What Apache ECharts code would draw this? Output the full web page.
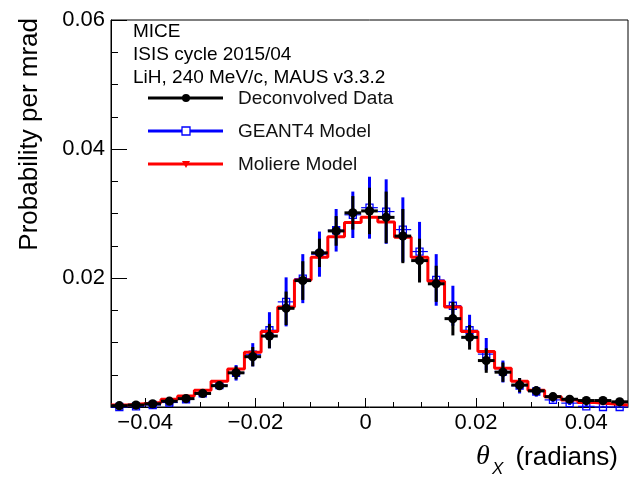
<!DOCTYPE html>
<html>
<head>
<meta charset="utf-8">
<script src="https://cdn.jsdelivr.net/npm/echarts/dist/echarts.min.js"></script>
<style>
  html, body { margin: 0; padding: 0; background: #fff; }
  #main { width: 629px; height: 481px; }
</style>
</head>
<body>
<div id="main"></div>
<script>
"use strict";
// histogram binning: 31 bins
var binLo = -0.0462, binW = 0.003025, nBins = 31;

// Deconvolved data (black) and its error
var dataVal = [0.0002, 0.0003, 0.0005, 0.0009, 0.0013, 0.0021, 0.0033, 0.0053, 0.0078, 0.0110,
  0.0153, 0.0196, 0.0239, 0.0273, 0.0301, 0.0304, 0.0294, 0.0265, 0.0227, 0.0191,
  0.0137, 0.0108, 0.0072, 0.0054, 0.0034, 0.0025, 0.0016, 0.0012, 0.0010, 0.0010, 0.0008];
var dataErr = [0.0002, 0.0002, 0.0002, 0.0003, 0.0003, 0.0004, 0.0006, 0.0010, 0.0015, 0.0019,
  0.0026, 0.0030, 0.0022, 0.0023, 0.0026, 0.0036, 0.0040, 0.0042, 0.0034, 0.0028,
  0.0026, 0.0019, 0.0019, 0.0015, 0.0011, 0.0007, 0.0004, 0.0003, 0.0003, 0.0002, 0.0002];
// GEANT4 model (blue)
var g4Val = [0.0000, 0.0001, 0.0003, 0.0007, 0.0012, 0.0021, 0.0034, 0.0053, 0.0081, 0.0119,
  0.0163, 0.0199, 0.0237, 0.0274, 0.0298, 0.0309, 0.0303, 0.0275, 0.0241, 0.0197,
  0.0157, 0.0119, 0.0082, 0.0055, 0.0033, 0.0024, 0.0011, 0.0006, 0.0001, 0.0000, 0.0000];
var g4Err = [0.0002, 0.0002, 0.0002, 0.0003, 0.0003, 0.0004, 0.0006, 0.0012, 0.0018, 0.0028,
  0.0038, 0.0038, 0.0035, 0.0033, 0.0036, 0.0048, 0.0050, 0.0050, 0.0046, 0.0040,
  0.0031, 0.0024, 0.0025, 0.0017, 0.0012, 0.0008, 0.0004, 0.0003, 0.0002, 0.0002, 0.0002];
// Moliere model (red histogram)
var molVal = [0.0003, 0.0005, 0.0007, 0.0012, 0.0017, 0.0026, 0.0040, 0.0059, 0.0085, 0.0117,
  0.0155, 0.0197, 0.0232, 0.0264, 0.0286, 0.0294, 0.0287, 0.0263, 0.0232, 0.0195,
  0.0155, 0.0117, 0.0086, 0.0060, 0.0040, 0.0026, 0.0016, 0.0011, 0.0007, 0.0005, 0.0003];

var majorX = [-0.04, -0.02, 0, 0.02, 0.04];
var minorX = [-0.045, -0.035, -0.03, -0.025, -0.015, -0.01, -0.005,
  0.005, 0.01, 0.015, 0.025, 0.03, 0.035, 0.045];

var FONT = "Liberation Sans";

function center(k){ return binLo + (k + 0.5) * binW; }

var blackData = dataVal.map(function(v, k){ return [center(k), v, dataErr[k]]; });
var blueData = g4Val.map(function(v, k){ return [center(k), v, g4Err[k]]; });
var redData = molVal.map(function(v, k){ return [binLo + k * binW, v]; });
redData.push([binLo + nBins * binW, molVal[nBins - 1]]);

function renderBlack(params, api){
  var x = api.value(0), v = api.value(1), e = api.value(2);
  var p = api.coord([x, v]);
  var l = api.coord([x - binW / 2, v])[0], r = api.coord([x + binW / 2, v])[0];
  var t = api.coord([x, v + e])[1], b = api.coord([x, Math.max(v - e, 0)])[1];
  return { type: 'group', children: [
    { type: 'line', shape: { x1: l, y1: p[1], x2: r, y2: p[1] }, style: { stroke: '#000', lineWidth: 3 } },
    { type: 'line', shape: { x1: p[0], y1: t, x2: p[0], y2: b }, style: { stroke: '#000', lineWidth: 3 } },
    { type: 'circle', shape: { cx: p[0], cy: p[1], r: 4.6 }, style: { fill: '#000' } }
  ]};
}
function renderBlue(params, api){
  var x = api.value(0), v = api.value(1), e = api.value(2);
  var p = api.coord([x, v]);
  var l = api.coord([x - binW / 2, v])[0], r = api.coord([x + binW / 2, v])[0];
  var t = api.coord([x, v + e])[1], b = api.coord([x, Math.max(v - e, 0)])[1];
  return { type: 'group', children: [
    { type: 'line', shape: { x1: l, y1: p[1], x2: r, y2: p[1] }, style: { stroke: '#0000ff', lineWidth: 1.2 } },
    { type: 'line', shape: { x1: p[0], y1: t, x2: p[0], y2: b }, style: { stroke: '#0000ff', lineWidth: 3 } },
    { type: 'rect', shape: { x: p[0] - 3.5, y: p[1] - 3.5, width: 7, height: 7 },
      style: { fill: 'none', stroke: '#0000ff', lineWidth: 1.3 } }
  ]};
}

var chart = echarts.init(document.getElementById('main'), null, { renderer: 'canvas' });
var option = {
  animation: false,
  backgroundColor: '#fff',
  grid: { left: 111, right: 1, top: 20, bottom: 74, show: true, borderColor: '#000', borderWidth: 1 },
  xAxis: [{
    type: 'value', min: binLo, max: binLo + nBins * binW,
    axisLine: { onZero: false, lineStyle: { color: '#000', width: 1 } },
    axisTick: { inside: true, length: 9, customValues: majorX, lineStyle: { color: '#000' } },
    axisLabel: { customValues: majorX, margin: 5, color: '#000', fontFamily: FONT, fontSize: 22,
      formatter: function(v){ return v === 0 ? '0' : (v < 0 ? '\u2212' + (-v).toFixed(2) : v.toFixed(2)); } },
    splitLine: { show: false }
  }, {
    type: 'value', min: binLo, max: binLo + nBins * binW, position: 'bottom',
    axisLine: { show: false, onZero: false },
    axisTick: { inside: true, length: 5, customValues: minorX, lineStyle: { color: '#000' } },
    axisLabel: { show: false },
    splitLine: { show: false }
  }],
  yAxis: {
    type: 'value', min: 0, max: 0.06, interval: 0.02,
    axisLine: { onZero: false, lineStyle: { color: '#000', width: 1 } },
    axisTick: { inside: true, length: 16, lineStyle: { color: '#000' } },
    minorTick: { show: true, splitNumber: 4, length: 7, lineStyle: { color: '#000' } },
    axisLabel: { margin: 6, showMinLabel: false, color: '#000', fontFamily: FONT, fontSize: 22,
      formatter: function(v){ return v.toFixed(2); } },
    splitLine: { show: false }, minorSplitLine: { show: false }
  },
  series: [
    { name: 'GEANT4 Model', type: 'custom', z: 2, data: blueData, renderItem: renderBlue, encode: { x: 0, y: 1 } },
    { name: 'Moliere Model', type: 'line', z: 3, step: 'end', data: redData, showSymbol: false,
      lineStyle: { color: '#ff0000', width: 3 } },
    { name: 'Deconvolved Data', type: 'custom', z: 4, data: blackData, renderItem: renderBlack, encode: { x: 0, y: 1 } }
  ],
  graphic: [
    { type: 'text', x: 30, y: 18, rotation: Math.PI / 2,
      style: { text: 'Probability per mrad', fontFamily: FONT, fontSize: 26, fill: '#000', align: 'right', verticalAlign: 'middle' } },
    { type: 'text', x: 618, y: 458,
      style: { text: '(radians)', fontFamily: FONT, fontSize: 26, fill: '#000', align: 'right', verticalAlign: 'middle' } },
    { type: 'text', x: 476, y: 457,
      style: { text: '\u03b8', fontFamily: 'Liberation Serif', fontStyle: 'italic', fontSize: 28, fill: '#000', align: 'left', verticalAlign: 'middle' } },
    { type: 'text', x: 492, y: 469,
      style: { text: 'X', fontFamily: FONT, fontStyle: 'italic', fontSize: 17, fill: '#000', align: 'left', verticalAlign: 'middle' } },
    { type: 'text', x: 133, y: 32,
      style: { text: 'MICE', fontFamily: FONT, fontSize: 19, fill: '#000', verticalAlign: 'middle' } },
    { type: 'text', x: 133, y: 55,
      style: { text: 'ISIS cycle 2015/04', fontFamily: FONT, fontSize: 19, fill: '#000', verticalAlign: 'middle' } },
    { type: 'text', x: 133, y: 78,
      style: { text: 'LiH, 240 MeV/c, MAUS v3.3.2', fontFamily: FONT, fontSize: 19, fill: '#000', verticalAlign: 'middle' } },
    // legend
    { type: 'line', shape: { x1: 148, y1: 98, x2: 223, y2: 98 }, style: { stroke: '#000', lineWidth: 3 } },
    { type: 'circle', shape: { cx: 186, cy: 98, r: 4 }, style: { fill: '#000' } },
    { type: 'text', x: 238, y: 99, style: { text: 'Deconvolved Data', fontFamily: FONT, fontSize: 19, fill: '#111', verticalAlign: 'middle' } },
    { type: 'line', shape: { x1: 148, y1: 131, x2: 223, y2: 131 }, style: { stroke: '#0000ff', lineWidth: 3 } },
    { type: 'rect', shape: { x: 182, y: 127, width: 8, height: 8 }, style: { fill: '#fff', stroke: '#0000ff', lineWidth: 1.3 } },
    { type: 'text', x: 238, y: 132, style: { text: 'GEANT4 Model', fontFamily: FONT, fontSize: 19, fill: '#111', verticalAlign: 'middle' } },
    { type: 'line', shape: { x1: 148, y1: 164, x2: 223, y2: 164 }, style: { stroke: '#ff0000', lineWidth: 3 } },
    { type: 'polygon', shape: { points: [[182, 161], [190, 161], [186, 168]] }, style: { fill: '#ff0000' } },
    { type: 'text', x: 238, y: 165, style: { text: 'Moliere Model', fontFamily: FONT, fontSize: 19, fill: '#111', verticalAlign: 'middle' } }
  ]
};
chart.setOption(option);
</script>
</body>
</html>
